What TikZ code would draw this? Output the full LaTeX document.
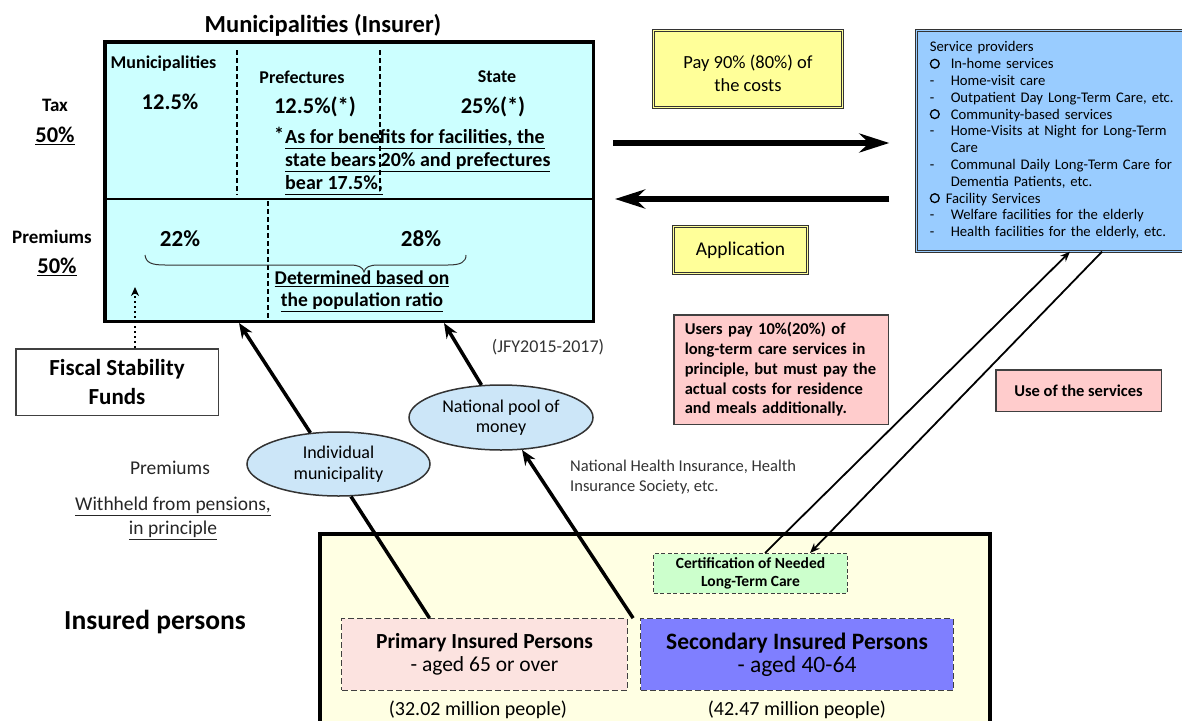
\documentclass[tikz,border=0pt]{standalone}
\usepackage{fontspec}
\setmainfont{Carlito}
\usetikzlibrary{arrows.meta,shapes.geometric}
\definecolor{insurerfill}{HTML}{CCFFFF}
\definecolor{providerfill}{HTML}{99CCFF}
\definecolor{notefill}{HTML}{FFFF99}
\definecolor{userfill}{HTML}{FFCCCC}
\definecolor{poolfill}{HTML}{CCE6F8}
\definecolor{certfill}{HTML}{CCFFCC}
\definecolor{primfill}{HTML}{FCE3E0}
\definecolor{secfill}{HTML}{7F7FFF}
\definecolor{insuredfill}{HTML}{FFFFE3}
\newcommand{\fsz}[2]{\fontsize{#1}{#2}\selectfont}
\newcommand{\ringmark}{\tikz[baseline=0pt]\draw[line width=1.3pt] (0.32em,0.34em) circle (0.3em);}
\begin{document}
\begin{tikzpicture}[x=1pt,y=-1pt,
		box/.style={draw=black!75, line width=1.5pt, inner sep=0pt},
		dblbox/.style={draw=black!80, line width=0.9pt, double distance=1.4pt, inner sep=0pt},
		dashbox/.style={draw=black!75, line width=1.3pt, dash pattern=on 6pt off 3pt, inner sep=0pt},
		pool/.style={ellipse, draw=black!80, line width=1.5pt, fill=poolfill, inner sep=0pt, align=center, font=\fsz{18}{20.5}},
		divider/.style={line width=1.2pt, dash pattern=on 5pt off 3pt},
		flow/.style={line width=3.5pt, -{Stealth[length=15pt,width=12pt]}},
		flowline/.style={line width=3.5pt},
		bigarrow/.style={line width=6.5pt, -{Stealth[length=30pt,width=19pt]}},
		svcline/.style={line width=1.8pt, -{Stealth[length=10pt,width=8pt]}}]
		\useasboundingbox (0,0) rectangle (1182,720);
		\clip (0,0) rectangle (1182,720);
		% insured persons frame
		\node[draw, line width=4pt, fill=insuredfill, minimum width=670, minimum height=220, anchor=north west] (insd) at (318,532) {};
		% insurer
		\node[draw, line width=3.5pt, fill=insurerfill, minimum width=488.5, minimum height=279.5] (ins) at (349,181.5) {};
		\draw[line width=1.5pt] (105,199) -- (593,199);
		\draw[divider] (237,50) -- (237,195);
		\draw[divider] (380,50) -- (380,195);
		\draw[divider] (268,201) -- (268,321);
		\node[font=\fsz{24.5}{28}\bfseries] (ttl) at (323,25) {Municipalities (Insurer)};
		\node[font=\fsz{18}{20}\bfseries] (mun) at (163.5,64) {Municipalities};
		\node[font=\fsz{22.5}{26}\bfseries] (munp) at (170,102) {12.5\%};
		\node[font=\fsz{18}{20}\bfseries] (pref) at (302,77) {Prefectures};
		\node[font=\fsz{22.5}{26}\bfseries] (prefp) at (315,107) {12.5\%(*)};
		\node[font=\fsz{18}{20}\bfseries] (state) at (497,77) {State};
		\node[font=\fsz{22.5}{26}\bfseries] (statep) at (493,107) {25\%(*)};
		\node[font=\fsz{20}{23}\bfseries, align=left, anchor=west, inner sep=0pt] (note) at (285,161)
			{\llap{\raisebox{2pt}{*}\hspace{1pt}}\underline{As for benefits for facilities, the}\\\underline{state bears 20\% and prefectures}\\\underline{bear 17.5\%,}};
		\node[font=\fsz{23}{26}\bfseries] (ppa) at (180,239) {22\%};
		\node[font=\fsz{23}{26}\bfseries] (ppb) at (421,239) {28\%};
		\draw[line width=1pt, black!80] (145,255) .. controls (146,263) and (152,265) .. (165,265) -- (350,265)
			.. controls (358,265) and (363,267) .. (364,272) .. controls (365,267) and (370,265) .. (378,265)
			-- (448,265) .. controls (461,265) and (466,262) .. (466,255);
		\node[font=\fsz{19.5}{22}\bfseries, align=center] (ratio) at (362,291) {\underline{Determined based on}\\\underline{the population ratio}};
		\node[font=\fsz{19}{22}\bfseries] (tax) at (55,105) {Tax};
		\node[font=\fsz{22.5}{26}\bfseries] (taxp) at (55,136) {\underline{50\%}};
		\node[font=\fsz{19}{22}\bfseries] (prem) at (52,237) {Premiums};
		\node[font=\fsz{22.5}{26}\bfseries] (premp) at (57,267) {\underline{50\%}};
		% payment and application
		\node[dblbox, double=notefill, fill=notefill, minimum width=188.5, minimum height=76.5, align=center, font=\fsz{18.5}{23}] (pay) at (748,69) {\rule{0pt}{22pt}Pay 90\% (80\%) of\\the costs};
		\node[dblbox, double=notefill, fill=notefill, minimum width=133.5, minimum height=46.5, font=\fsz{19.5}{22}] (appl) at (740.5,250) {Application};
		% service providers
		\node[dblbox, double=providerfill, fill=providerfill, minimum width=276.5, minimum height=220.5, text width=250.5, inner xsep=13pt, align=left, font=\fsz{14.7}{16.8}] (svc) at (1055,141)
			{\begin{tabular}{@{}p{21pt}@{}l@{}}
				\multicolumn{2}{@{}l@{}}{Service providers}\\
				\ringmark & In-home services\\
				- & Home-visit care\\
				- & Outpatient Day Long-Term Care, etc.\\
				\ringmark & Community-based services\\
				- & Home-Visits at Night for Long-Term\\
				& Care\\
				- & Communal Daily Long-Term Care for\\
				& Dementia Patients, etc.\\
				\multicolumn{2}{@{}l@{}}{\ringmark\hspace{1pt} Facility Services}\\
				- & Welfare facilities for the elderly\\
				- & Health facilities for the elderly, etc.
			\end{tabular}};
		\draw[bigarrow] ([xshift=18,yshift=38.5]ins.east) -- ([xshift=-27,yshift=-2]svc.west);
		\draw[bigarrow] ([xshift=-27,yshift=-58]svc.west) -- ([xshift=20,yshift=-17.5]ins.east);
		% users
		\node[box, fill=userfill, minimum width=214.5, minimum height=109.5, text width=192.5, inner xsep=11pt, align=left, font=\fsz{16.5}{19.7}\bfseries] (user) at (781,369.5)
			{Users pay 10\%(20\%) of\\long-term care services in\\principle, but must pay the\\actual costs for residence\\and meals additionally.};
		\node[box, fill=userfill, minimum width=165.5, minimum height=41.5, font=\fsz{16.5}{19}\bfseries] (use) at (1078.5,390.5) {Use of the services};
		% fiscal stability funds
		\node[box, fill=white, minimum width=202.5, minimum height=66.5, align=center, font=\fsz{23}{29}\bfseries] (fsf) at (117,382) {Fiscal Stability\\Funds};
		\coordinate (fsend) at (135,287);
		\draw[line width=2.5pt, dash pattern=on 2.5pt off 2.5pt, -{Stealth[length=9pt,width=8pt]}] ([xshift=18]fsf.north) -- (fsend);
		% labels
		\node[font=\fsz{18}{20}, text=black!80] (jfy) at (548,347) {(JFY2015-2017)};
		\node[font=\fsz{19.5}{22}, text=black!85] (premb) at (170,468) {Premiums};
		\node[font=\fsz{19.5}{24}, align=center, text=black!85] (pens) at (173,518) {\underline{Withheld from pensions,}\\\underline{in principle}};
		\node[font=\fsz{16.5}{20}, align=left, anchor=west, inner sep=0pt, text=black!80] (nhi) at (570,477) {National Health Insurance, Health\\Insurance Society, etc.};
		\node[font=\fsz{27.5}{30}\bfseries] (insp) at (155,622) {Insured persons};
		% insured groups
		\node[dashbox, line width=1.2pt, dash pattern=on 4pt off 2.5pt, fill=certfill, minimum width=193.8, minimum height=39.8, align=center, font=\fsz{15.5}{17.5}\bfseries] (cert) at (750.5,573.5) {Certification of Needed\\Long-Term Care};
		\node[dashbox, fill=primfill, minimum width=285.5, minimum height=71.5, align=center, font=\fsz{21.5}{23}] (prim) at (484.5,654.5) {\textbf{Primary Insured Persons}\\- aged 65 or over};
		\node[dashbox, fill=secfill, minimum width=312.5, minimum height=71.5, align=center, font=\fsz{23.5}{23}] (sec) at (797,654.5) {\textbf{Secondary Insured Persons}\\- aged 40-64};
		\node[font=\fsz{20}{22}] (primn) at (478,710) {(32.02 million people)};
		\node[font=\fsz{20}{22}] (secn) at (797,710) {(42.47 million people)};
		% pools of premiums
		\node[pool, minimum width=183, minimum height=64] (indiv) at (338.5,464) {Individual\\municipality};
		\node[pool, minimum width=184, minimum height=65] (natl) at (501,417.5) {National pool of\\money};
		\draw[flowline] ([xshift=-55]prim.north) -- (indiv.-69);
		\draw[flow] (indiv.132) -- ([xshift=-110]ins.south);
		\draw[flow] ([xshift=-7]sec.north west) -- (natl.-57);
		\draw[flow] (natl.121) -- ([xshift=95]ins.south);
		% use of services
		\draw[svcline] ([xshift=14.5]cert.north) -- ([xshift=15]svc.south);
		\draw[svcline] ([xshift=47]svc.south) -- ([xshift=59.5]cert.north);
\end{tikzpicture}
\end{document}
